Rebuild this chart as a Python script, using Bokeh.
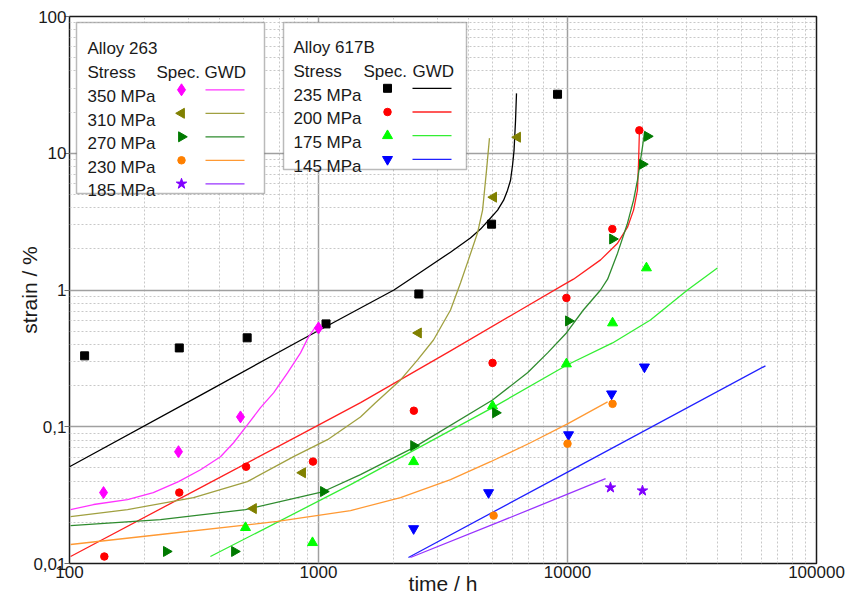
from bokeh.plotting import figure
from bokeh.models import FixedTicker, BoxAnnotation, Label, Range1d, CustomJSTickFormatter
from bokeh.embed import file_html
from bokeh.resources import INLINE
import math

# ---------------- data (time in h, strain in %) ----------------
# Alloy 617B specimens and GWD model curves
stress_617 = ["235 MPa", "200 MPa", "175 MPa", "145 MPa"]

t_617_235 = [115, 276, 517, 1072, 2529, 4955, 9120]
e_617_235 = [0.33, 0.377, 0.447, 0.565, 0.935, 3.03, 27.0]
gt_617_235 = [100, 338, 851, 2009, 2570, 3388, 4074, 4475, 4910, 5240, 5540, 5745, 5905, 6015, 6100, 6185, 6240]
ge_617_235 = [0.051, 0.171, 0.431, 1.0, 1.35, 1.89, 2.40, 2.79, 3.36, 3.84, 4.54, 5.37, 6.35, 8.17, 10.5, 17.4, 27.4]

t_617_200 = [138, 276, 512, 950, 2415, 5000, 9900, 15140, 19430]
e_617_200 = [0.01125, 0.033, 0.051, 0.0556, 0.131, 0.293, 0.875, 2.79, 14.7]
gt_617_200 = [101, 336, 847, 1476, 3390, 6470, 9630, 10570, 13580, 15890, 17420, 18420, 19100, 19290, 19450]
ge_617_200 = [0.01125, 0.0359, 0.0875, 0.150, 0.359, 0.714, 1.09, 1.20, 1.66, 2.20, 2.88, 3.84, 5.37, 8.45, 14.7]

t_617_175 = [509, 946, 2410, 5000, 9900, 15170, 20750]
e_617_175 = [0.0183, 0.0142, 0.0555, 0.142, 0.288, 0.574, 1.45]
gt_617_175 = [368, 1345, 5000, 10000, 15170, 21530, 30330, 40000]
ge_617_175 = [0.01125, 0.0377, 0.138, 0.284, 0.410, 0.604, 1.0, 1.45]

t_617_145 = [2410, 4820, 10100, 15030, 20370]
e_617_145 = [0.0180, 0.033, 0.0875, 0.174, 0.274]
gt_617_145 = [2297, 10090, 62370]
ge_617_145 = [0.01106, 0.047, 0.279]

# Alloy 263 specimens and GWD model curves
stress_263 = ["350 MPa", "310 MPa", "270 MPa", "230 MPa", "185 MPa"]

t_263_350 = [137, 274, 486, 1000]
e_263_350 = [0.033, 0.0657, 0.118, 0.528]
gt_263_350 = [101, 125, 171, 217, 274, 336, 404, 456, 519, 585, 660, 751, 847, 912, 973, 1000]
ge_263_350 = [0.0248, 0.027, 0.0293, 0.033, 0.0397, 0.0485, 0.0604, 0.0764, 0.1035, 0.138, 0.177, 0.248, 0.347, 0.454, 0.537, 0.537]

t_263_310 = [548, 863, 2520, 5050, 6300]
e_263_310 = [0.0252, 0.0461, 0.485, 4.77, 13.1]
gt_263_310 = [101, 171, 315, 518, 794, 1087, 1474, 1694, 2135, 2500, 2896, 3390, 3717, 4000, 4350, 4560, 4730, 4860]
ge_263_310 = [0.0220, 0.0248, 0.0303, 0.0397, 0.0604, 0.0804, 0.118, 0.150, 0.220, 0.308, 0.431, 0.714, 1.125, 1.66, 2.61, 3.84, 7.52, 12.9]

t_263_270 = [245, 460, 1047, 2410, 5140, 10090, 15170, 20000, 20940]
e_263_270 = [0.01225, 0.01225, 0.0336, 0.0727, 0.1265, 0.594, 2.36, 8.31, 13.3]
gt_263_270 = [101, 232, 509, 1047, 1474, 2410, 5000, 6910, 8320, 9900, 11580, 13580, 14490, 15890,
              17420, 18420, 19100, 19640, 20000, 20370]
ge_263_270 = [0.0189, 0.0209, 0.0248, 0.0336, 0.0447, 0.0703, 0.157, 0.248, 0.347, 0.485, 0.714, 1.0, 1.20, 1.86,
              3.08, 4.54, 6.35, 8.89, 11.1, 14.2]

t_263_230 = [5050, 10000, 15170]
e_263_230 = [0.0224, 0.0752, 0.147]
gt_263_230 = [101, 232, 684, 1345, 2135, 3390, 4910, 7100, 10000, 14490]
ge_263_230 = [0.01377, 0.0163, 0.0203, 0.0244, 0.0303, 0.041, 0.0555, 0.0764, 0.105, 0.152]

t_263_185 = [14880, 20000]
e_263_185 = [0.0359, 0.0341]
gt_263_185 = [2340, 5380, 14220]
ge_263_185 = [0.01106, 0.0203, 0.0417]

x_ticks = [100, 1000, 10000, 100000]
y_ticks = [0.01, 0.1, 1, 10, 100]

# ---------------- styles ----------------
FONT = "Liberation Sans"
TXT = "#1a1a1a"

series_617 = [
    (t_617_235, e_617_235, gt_617_235, ge_617_235, "square", 0.0, "#000000", "#000000", 8),
    (t_617_200, e_617_200, gt_617_200, ge_617_200, "circle", 0.0, "#ff0000", "#ff2020", 7.5),
    (t_617_175, e_617_175, gt_617_175, ge_617_175, "triangle", 0.0, "#00ff00", "#33ee33", 10),
    (t_617_145, e_617_145, gt_617_145, ge_617_145, "inverted_triangle", 0.0, "#0000ff", "#2020ff", 10),
]
series_263 = [
    (t_263_350, e_263_350, gt_263_350, ge_263_350, "diamond", 0.0, "#ff00ff", "#ff33ff", 12),
    (t_263_310, e_263_310, gt_263_310, ge_263_310, "triangle", math.pi / 2, "#808000", "#a0a040", 10),
    (t_263_270, e_263_270, gt_263_270, ge_263_270, "triangle", -math.pi / 2, "#007a00", "#2e8b2e", 10),
    (t_263_230, e_263_230, gt_263_230, ge_263_230, "circle", 0.0, "#ff8000", "#ff9933", 7.5),
    (t_263_185, e_263_185, gt_263_185, ge_263_185, "star", 0.0, "#8000ff", "#9933ff", 11),
]

p = figure(width=854, height=598, x_axis_type="log", y_axis_type="log",
           x_range=Range1d(100, 100000), y_range=Range1d(0.01, 100),
           output_backend="svg", toolbar_location=None,
           min_border_left=69, min_border_right=38, min_border_top=16, min_border_bottom=35)
p.background_fill_color = "white"
p.border_fill_color = "white"
p.outline_line_color = "#1a1a1a"
p.outline_line_width = 1.5

xminor = [m * 10.0 ** k for k in range(2, 5) for m in range(2, 10)]
yminor = [m * 10.0 ** k for k in range(-2, 2) for m in range(2, 10)]
p.xaxis.ticker = FixedTicker(ticks=x_ticks, minor_ticks=xminor)
p.yaxis.ticker = FixedTicker(ticks=y_ticks, minor_ticks=yminor)
p.xaxis.formatter = CustomJSTickFormatter(code="return Math.round(tick).toString();")
p.yaxis.formatter = CustomJSTickFormatter(code="return tick.toString().replace('.', ',');")

for ax in (p.xaxis[0], p.yaxis[0]):
    ax.axis_line_color = None
    ax.minor_tick_line_color = None
    ax.major_label_text_font = FONT
    ax.major_label_text_font_size = "17px"
    ax.major_label_text_color = TXT
    ax.axis_label_text_font = FONT
    ax.axis_label_text_font_size = "21px"
    ax.axis_label_text_font_style = "normal"
    ax.axis_label_text_color = TXT

p.xaxis.axis_label = "time / h"
p.yaxis.axis_label = "strain / %"
p.xaxis.major_tick_line_color = None
p.xaxis.major_tick_out = 0
p.xaxis.major_label_standoff = -2
p.xaxis.axis_label_standoff = -9
p.yaxis.major_tick_out = 5
p.yaxis.major_tick_in = 0
p.yaxis.major_tick_line_color = "#707070"
p.yaxis.major_label_standoff = -2
p.yaxis.axis_label_standoff = -11

for g in (p.xgrid[0], p.ygrid[0]):
    g.grid_line_color = "#a0a0a0"
    g.grid_line_width = 1.5
    g.minor_grid_line_color = "#c8c8c8"
    g.minor_grid_line_dash = "2 2"
    g.minor_grid_line_width = 1

# data marks
for (t, e, gt, ge, mk, ang, mc, lc, sz) in series_617 + series_263:
    p.line(gt, ge, line_color=lc, line_width=1.3)
for (t, e, gt, ge, mk, ang, mc, lc, sz) in series_617 + series_263:
    p.scatter(t, e, marker=mk, angle=ang, size=sz, fill_color=mc, line_color=mc)

# ---------------- legend boxes (layout in page pixels) ----------------
def lx(px):
    return 10 ** (2 + (px - 69) / 249.0)

def ly(py):
    return 10 ** (2 - (py - 16) / 136.75)

def add_text(x, y, s):
    p.add_layout(Label(x=lx(x), y=ly(y), text=s, text_font=FONT, text_font_size="17px",
                       text_color=TXT, text_baseline="alphabetic", text_align="left"))

def legend_box(left, top, right, bottom, title, stresses, series, lab_x, spec_x, gwd_x,
               mark_x, line_x0, line_x1, base0, cen0, step):
    p.add_layout(BoxAnnotation(left=lx(left), right=lx(right), top=ly(top), bottom=ly(bottom),
                               fill_color="white", fill_alpha=1.0, line_color="#1a1a1a",
                               line_width=1.5, level="underlay"))
    add_text(lab_x, base0 - 48, title)
    add_text(lab_x, base0 - 24, "Stress")
    add_text(spec_x, base0 - 24, "Spec.")
    add_text(gwd_x, base0 - 24, "GWD")
    for i, (s, ser) in enumerate(zip(stresses, series)):
        mk, ang, mc, lc, sz = ser[4], ser[5], ser[6], ser[7], ser[8]
        add_text(lab_x, base0 + i * step, s)
        yc = cen0 + i * step
        p.scatter([lx(mark_x)], [ly(yc)], marker=mk, angle=ang, size=sz, fill_color=mc, line_color=mc)
        p.line([lx(line_x0), lx(line_x1)], [ly(yc), ly(yc)], line_color=lc, line_width=1.3)

legend_box(76, 22, 264, 193, "Alloy 263", stress_263, series_263,
           87, 156, 204, 181, 205, 244, 96.0, 89.3, 23.5)
legend_box(283, 22, 466, 169, "Alloy 617B", stress_617, series_617,
           293, 363, 412, 387, 412, 451, 94.5, 87.8, 23.7)

open("out.html", "w").write(file_html(p, INLINE))
